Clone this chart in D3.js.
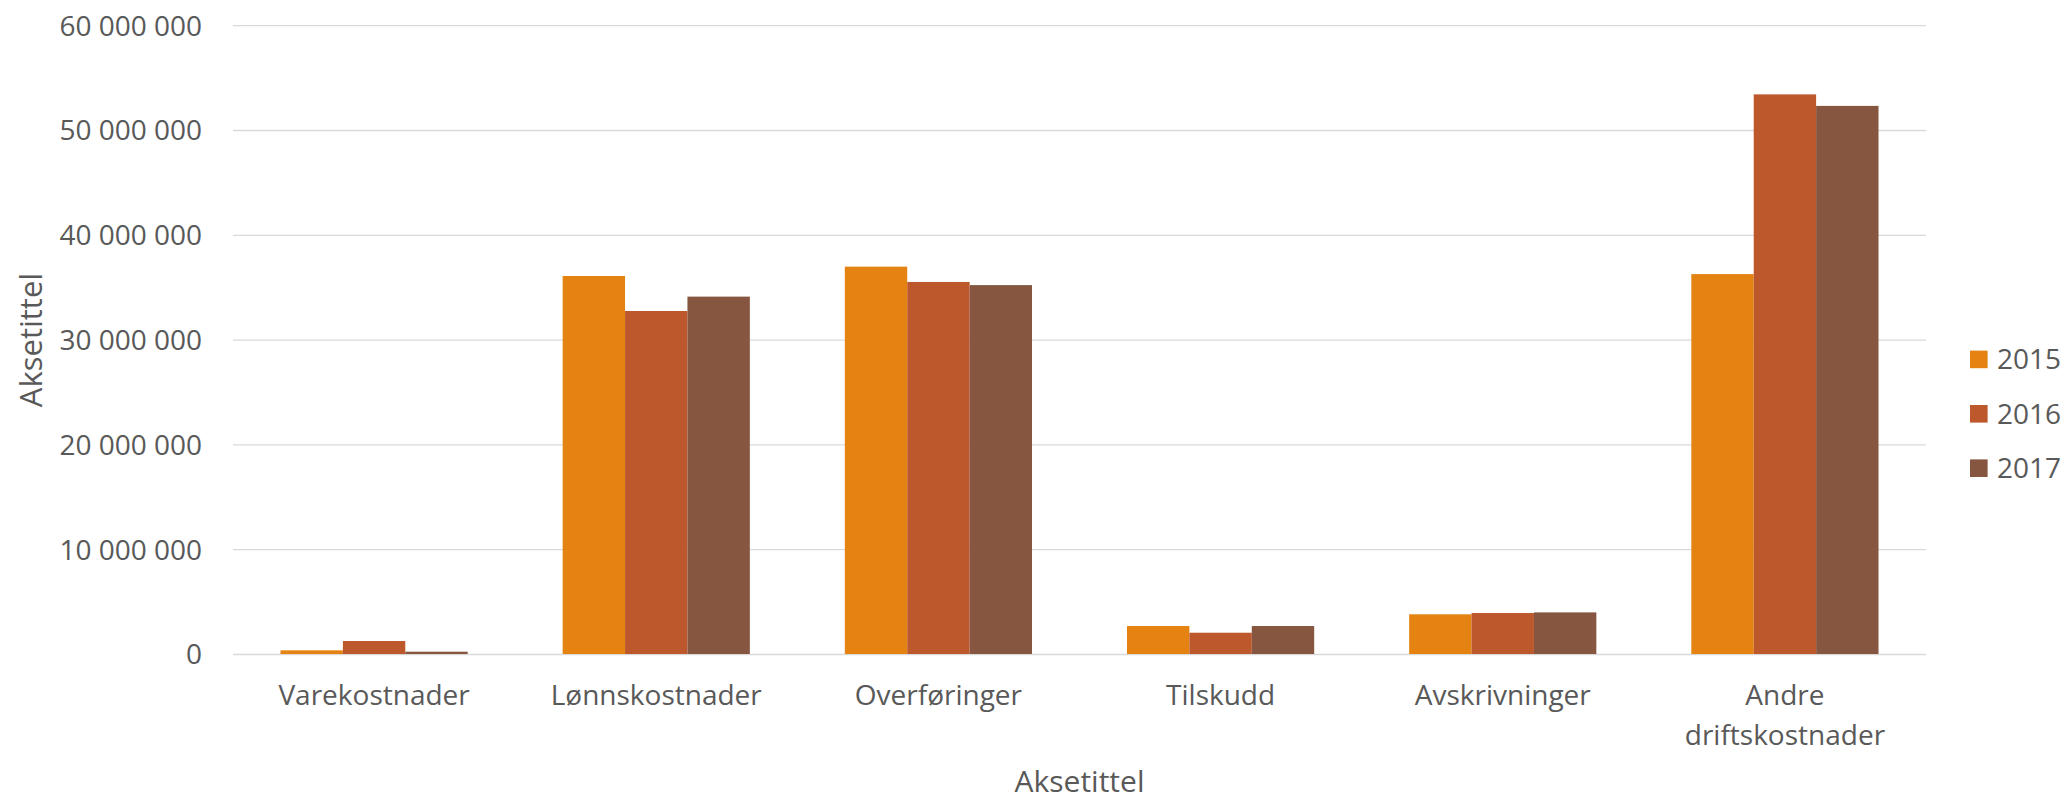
<!DOCTYPE html>
<html>
<head>
<meta charset="utf-8">
<script src="https://cdn.jsdelivr.net/npm/d3@7"></script>
<style>
  html, body { margin: 0; padding: 0; background: #fff; }
  svg { display: block; font-family: "Open Sans", "Noto Sans", sans-serif; }
</style>
</head>
<body>
<svg id="chart" width="2069" height="800"></svg>
<script>
const categories = ["Varekostnader", "Lønnskostnader", "Overføringer", "Tilskudd", "Avskrivninger", "Andre driftskostnader"];
const series = ["2015", "2016", "2017"];
const values2015 = [350000, 36070000, 36960000, 2670000, 3790000, 36250000];
const values2016 = [1240000, 32730000, 35500000, 2030000, 3910000, 53400000];
const values2017 = [220000, 34100000, 35200000, 2670000, 3970000, 52300000];
const yTicks = [0, 10000000, 20000000, 30000000, 40000000, 50000000, 60000000];
const colors = ["#E48312", "#BD582C", "#865640"];
const axisTitleX = "Aksetittel";
const axisTitleY = "Aksetittel";

(function () {
const seriesValues = [values2015, values2016, values2017];
const data = categories.map((c, i) => ({cat: c, vals: series.map((s, j) => ({s, v: seriesValues[j][i], color: colors[j]}))}));

const svg = d3.select("#chart");
const pLeft = 233, pRight = 1926, pTop = 25.2, pBottom = 654;
const textColor = "#595959";

const x = d3.scaleBand().domain(categories).range([pLeft, pRight]).paddingInner(0.3366).paddingOuter(0.1683);
const xs = d3.scaleBand().domain(series).range([0, x.bandwidth()]);
const y = d3.scaleLinear().domain([0, 60000000]).range([pBottom, pTop]);

const locale = d3.formatLocale({decimal: ",", thousands: " ", grouping: [3], currency: ["", ""]});
const fmt = locale.format(",d");

// gridlines + y tick labels
const yAxis = d3.axisLeft(y).tickValues(yTicks).tickSize(-(pRight - pLeft)).tickFormat(fmt).tickPadding(31);
const gy = svg.append("g").attr("transform", `translate(${pLeft},0)`).call(yAxis);
gy.select(".domain").remove();
gy.selectAll(".tick line").attr("stroke", "#D9D9D9").attr("stroke-width", 1.3);
gy.selectAll(".tick text").attr("fill", textColor).style("font-size", "28px").style("font-family", "'Open Sans', sans-serif").attr("dy", "0.35em");

// bars
const groups = svg.append("g").selectAll("g").data(data).join("g")
  .attr("transform", d => `translate(${x(d.cat)},0)`);
groups.selectAll("rect").data(d => d.vals).join("rect")
  .attr("x", d => xs(d.s))
  .attr("width", xs.bandwidth())
  .attr("y", d => y(d.v))
  .attr("height", d => y(0) - y(d.v))
  .attr("fill", d => d.color);

// x axis labels
const xAxis = d3.axisBottom(x).tickSize(0).tickPadding(0);
const gx = svg.append("g").attr("transform", `translate(0,${pBottom})`).call(xAxis);
gx.select(".domain").remove();
gx.selectAll(".tick text").remove();
gx.selectAll(".tick").each(function(d) {
  const words = d === "Andre driftskostnader" ? ["Andre", "driftskostnader"] : [d];
  const t = d3.select(this).append("text")
    .attr("fill", textColor).attr("text-anchor", "middle")
    .style("font-size", "28px").style("font-family", "'Open Sans', sans-serif");
  words.forEach((w, i) => {
    t.append("tspan").attr("x", 0).attr("y", 51 + i * 40).text(w);
  });
});

// axis titles
svg.append("text").attr("x", (pLeft + pRight) / 2).attr("y", 792)
  .attr("text-anchor", "middle").attr("fill", textColor).style("font-size", "30px").text(axisTitleX);
svg.append("text").attr("transform", `translate(42,340) rotate(-90)`)
  .attr("text-anchor", "middle").attr("fill", textColor).style("font-size", "31px").text(axisTitleY);

// legend
const legend = svg.append("g").attr("transform", "translate(1970,359.4)");
const items = legend.selectAll("g").data(series).join("g").attr("transform", (d, i) => `translate(0,${i * 54.4})`);
items.append("rect").attr("x", 0).attr("y", -8.8).attr("width", 17.6).attr("height", 17.6).attr("fill", (d, i) => colors[i]);
items.append("text").attr("x", 27).attr("y", 0).attr("dy", "0.35em").attr("fill", textColor).style("font-size", "28px").text(d => d);
})();
</script>
</body>
</html>
